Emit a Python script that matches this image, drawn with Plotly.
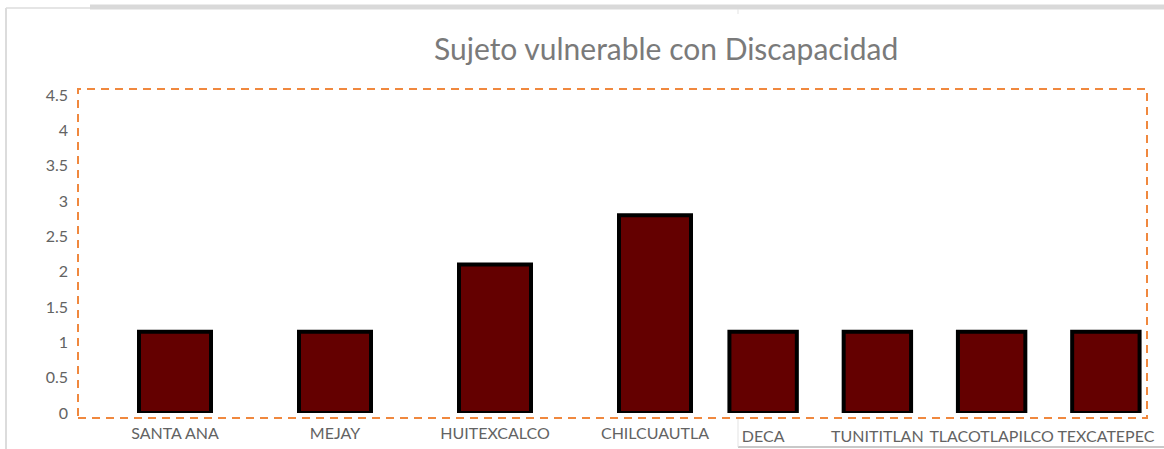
import plotly.graph_objects as go

# ---- data ----
categories_left = ["SANTA ANA", "MEJAY", "HUITEXCALCO", "CHILCUAUTLA"]
values_left = [1.15, 1.15, 2.1, 2.8]
categories_right = ["DECA", "TUNITITLAN", "TLACOTLAPILCO", "TEXCATEPEC"]
values_right = [1.15, 1.15, 1.15, 1.15]
y_tick_values = [0, 0.5, 1, 1.5, 2, 2.5, 3, 3.5, 4, 4.5]
title_text = "Sujeto vulnerable con Discapacidad"

W, H = 1164, 449


def px(x):
    return x / W


def py(y):
    return 1 - y / H


BAR_FILL = "#640000"
BAR_LINE = "#000000"
FONT = "Lato, Open Sans, DejaVu Sans, sans-serif"
TICK_COLOR = "#636363"

fig = go.Figure()
fig.add_trace(go.Bar(
    x=categories_left, y=values_left, xaxis="x", yaxis="y",
    width=0.45,
    marker=dict(color=BAR_FILL, line=dict(color=BAR_LINE, width=4)),
    showlegend=False, hoverinfo="x+y",
))
fig.add_trace(go.Bar(
    x=categories_right, y=values_right, xaxis="x2", yaxis="y",
    width=0.59,
    marker=dict(color=BAR_FILL, line=dict(color=BAR_LINE, width=4)),
    showlegend=False, hoverinfo="x+y",
))

shapes = [
    # orange dashed plot-area border
    dict(type="rect", xref="paper", yref="paper",
         x0=px(78), x1=px(1147), y0=py(418), y1=py(89),
         line=dict(color="#F0883E", width=2, dash="8px,6px"),
         fillcolor="rgba(0,0,0,0)", layer="above"),
    # thick light gray line at top
    dict(type="rect", xref="paper", yref="paper",
         x0=px(90), x1=px(1164), y0=py(9.5), y1=py(4.5),
         line=dict(width=0), fillcolor="#d9d9d9", layer="below"),
    # left frame line
    dict(type="line", xref="paper", yref="paper",
         x0=px(6), x1=px(6), y0=py(8), y1=py(449),
         line=dict(color="#dcdcdc", width=2), layer="below"),
    dict(type="line", xref="paper", yref="paper",
         x0=px(6), x1=px(90), y0=py(8), y1=py(8),
         line=dict(color="#dcdcdc", width=1.5), layer="below"),
    # bottom-right frame
    dict(type="line", xref="paper", yref="paper",
         x0=px(738), x1=px(1164), y0=py(447), y1=py(447),
         line=dict(color="#c8c8c8", width=2), layer="below"),
    dict(type="line", xref="paper", yref="paper",
         x0=px(738), x1=px(738), y0=py(419), y1=py(447),
         line=dict(color="#e3e3e3", width=1), layer="below"),
    dict(type="line", xref="paper", yref="paper",
         x0=px(738), x1=px(738), y0=py(9), y1=py(14),
         line=dict(color="#e3e3e3", width=1), layer="below"),
]

fig.update_layout(
    width=W, height=H,
    margin=dict(l=0, r=0, t=0, b=0, pad=0),
    paper_bgcolor="white", plot_bgcolor="rgba(0,0,0,0)",
    showlegend=False,
    font=dict(family=FONT, color=TICK_COLOR, size=16),
    xaxis=dict(
        domain=[px(95), px(735)], type="category",
        categoryorder="array", categoryarray=categories_left,
        showgrid=False, showline=False, zeroline=False, ticks="",
        tickfont=dict(family=FONT, size=16, color=TICK_COLOR),
        ticklabelstandoff=9, anchor="y", automargin=False,
    ),
    xaxis2=dict(
        domain=[px(706), px(1163)], type="category",
        categoryorder="array", categoryarray=categories_right,
        showgrid=False, showline=False, zeroline=False, ticks="",
        tickfont=dict(family=FONT, size=16, color=TICK_COLOR),
        ticklabelstandoff=12, anchor="y", automargin=False,
    ),
    yaxis=dict(
        domain=[py(413), py(95)], range=[0, 4.5],
        tickvals=y_tick_values, ticktext=[f"{v:g}" for v in y_tick_values],
        showgrid=False, showline=False, zeroline=False, ticks="",
        tickfont=dict(family=FONT, size=16, color=TICK_COLOR),
        anchor="free", position=px(68), automargin=False,
    ),
    shapes=shapes,
    annotations=[dict(
        text=title_text, xref="paper", yref="paper",
        x=px(666), y=py(48), xanchor="center", yanchor="middle",
        showarrow=False, font=dict(family=FONT, size=30, color="#7a7a7a"),
    )],
)

fig.write_html(
    "out.html",
    config={"displayModeBar": False},
    post_script="document.body.style.margin='0';document.body.style.overflow='hidden';",
)
